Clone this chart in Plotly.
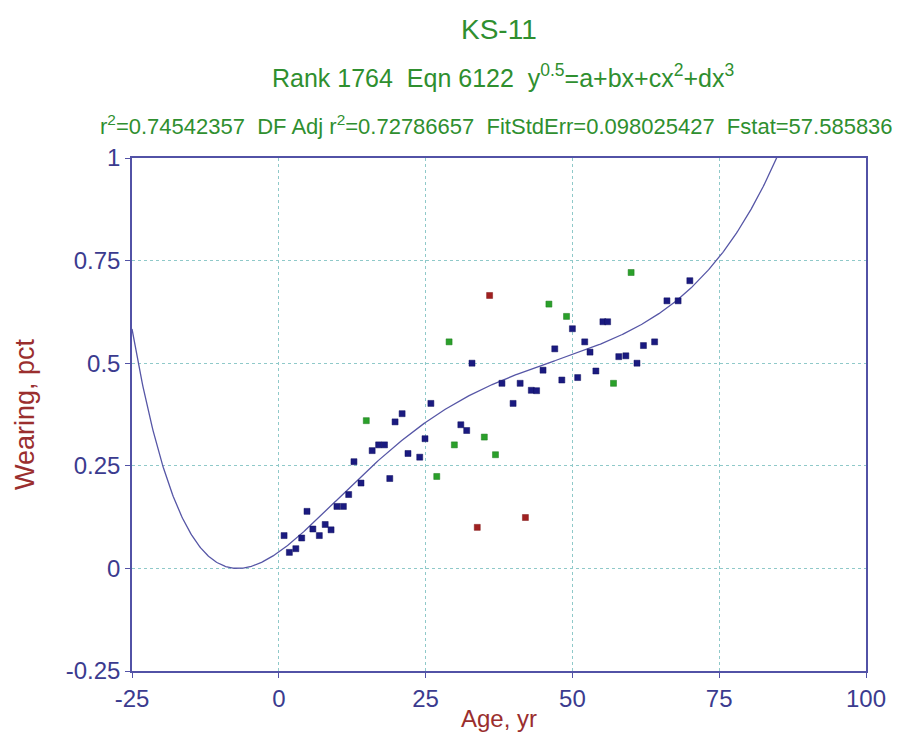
import numpy as np
import plotly.graph_objects as go

# Observed samples, grouped by marker colour
age_main = [0.9, 1.8, 2.9, 3.9, 4.8, 5.8, 6.9, 7.9, 8.9, 9.9, 11.0, 11.9, 12.8, 14.0,
            15.9, 17.0, 18.0, 18.9, 19.8, 21.0, 22.0, 24.0, 24.9, 25.9, 31.0, 32.0,
            32.9, 38.0, 39.9, 41.1, 43.0, 43.9, 45.0, 47.0, 48.2, 50.0, 50.9, 52.1,
            53.0, 54.0, 55.2, 56.0, 57.9, 59.1, 61.0, 62.1, 64.0, 66.1, 68.0, 70.0]
wear_main = [0.080, 0.039, 0.048, 0.074, 0.139, 0.096, 0.080, 0.107, 0.094, 0.151,
             0.151, 0.180, 0.260, 0.208, 0.287, 0.301, 0.301, 0.219, 0.357, 0.377,
             0.280, 0.271, 0.316, 0.402, 0.350, 0.336, 0.500, 0.451, 0.402, 0.451,
             0.434, 0.433, 0.483, 0.535, 0.459, 0.584, 0.465, 0.552, 0.527, 0.481,
             0.601, 0.601, 0.516, 0.518, 0.500, 0.543, 0.552, 0.652, 0.652, 0.701]

age_green = [14.9, 26.9, 29.0, 29.9, 35.0, 36.9, 46.0, 49.0, 57.0, 60.0]
wear_green = [0.360, 0.224, 0.552, 0.301, 0.320, 0.277, 0.644, 0.614, 0.451, 0.721]

age_red = [33.8, 35.9, 42.0]
wear_red = [0.100, 0.665, 0.124]

# Fitted model: y^0.5 = a + b*x + c*x^2 + d*x^3
coef_a, coef_b, coef_c, coef_d = 0.1999, 0.02524, -0.0004537, 3.153e-6

x_fit = np.linspace(-25, 100, 800)
root = coef_a + coef_b * x_fit + coef_c * x_fit**2 + coef_d * x_fit**3
y_fit = root**2

x_ticks = [-25, 0, 25, 50, 75, 100]
x_tick_text = ["-25", "0", "25", "50", "75", "100"]
y_ticks = [-0.25, 0, 0.25, 0.5, 0.75, 1]
y_tick_text = ["-0.25", "0", "0.25", "0.5", "0.75", "1"]

FONT = "Liberation Sans, Arial, sans-serif"
GREEN = "#2f8f2f"
AXIS = "#3b3b8f"
FRAME = "#5252a6"
TITLE_RED = "#9a2e2e"

fig = go.Figure()

fig.add_trace(go.Scatter(
    x=x_fit, y=y_fit, mode="lines",
    line=dict(color="#5656a6", width=1.3), hoverinfo="skip", showlegend=False))

fig.add_trace(go.Scatter(
    x=age_main, y=wear_main, mode="markers",
    marker=dict(symbol="square", size=6, color="#1a1a80",
                line=dict(color="#101060", width=0.5)),
    showlegend=False))
fig.add_trace(go.Scatter(
    x=age_green, y=wear_green, mode="markers",
    marker=dict(symbol="square", size=6, color="#2aa02a",
                line=dict(color="#1d7a1d", width=0.5)),
    showlegend=False))
fig.add_trace(go.Scatter(
    x=age_red, y=wear_red, mode="markers",
    marker=dict(symbol="square", size=6, color="#a02020",
                line=dict(color="#801818", width=0.5)),
    showlegend=False))

fig.update_layout(
    width=905, height=735,
    margin=dict(l=132, r=39, t=158, b=64),
    paper_bgcolor="white", plot_bgcolor="white",
    font=dict(family=FONT, color=AXIS),
)

fig.update_xaxes(
    range=[-25, 100], tickvals=x_ticks, ticktext=x_tick_text,
    ticks="outside", ticklen=5, automargin=False,
    tickcolor=FRAME, tickfont=dict(size=24, color=AXIS),
    showline=True, linecolor=FRAME, linewidth=1.5, mirror=True,
    showgrid=True, gridcolor="#8fc9c9", griddash="dot", gridwidth=1,
    zeroline=False,
    title=dict(text="Age, yr", font=dict(size=24, color=TITLE_RED), standoff=0),
)
fig.update_yaxes(
    range=[-0.25, 1], tickvals=y_ticks, ticktext=y_tick_text, ticks="outside",
    ticklen=5, automargin=False, tickcolor=FRAME, tickfont=dict(size=24, color=AXIS),
    showline=True, linecolor=FRAME, linewidth=1.5, mirror=True,
    showgrid=True, gridcolor="#8fc9c9", griddash="dot", gridwidth=1,
    zeroline=False,
    title=dict(text="Wearing, pct", font=dict(size=27, color=TITLE_RED), standoff=23),
)

fig.add_annotation(text="KS-11", xref="paper", yref="paper", x=0.5, y=1,
                   yanchor="middle", yshift=129, showarrow=False,
                   font=dict(size=28, color=GREEN, family=FONT))
fig.add_annotation(text="Rank 1764  Eqn 6122  y<sup>0.5</sup>=a+bx+cx<sup>2</sup>+dx<sup>3</sup>",
                   xref="paper", yref="paper", x=0.5, y=1, yanchor="middle",
                   yshift=82, xshift=4,
                   showarrow=False, font=dict(size=25, color=GREEN, family=FONT))
fig.add_annotation(text="r<sup>2</sup>=0.74542357  DF Adj r<sup>2</sup>=0.72786657  "
                        "FitStdErr=0.098025427  Fstat=57.585836",
                   xref="paper", yref="paper", x=0.5, y=1, yanchor="middle",
                   yshift=33, xshift=-3,
                   showarrow=False, font=dict(size=22, color=GREEN, family=FONT))

fig.write_html("out.html")
